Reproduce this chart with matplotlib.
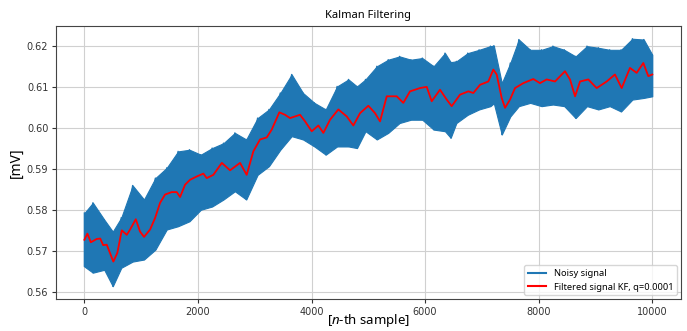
import numpy as np
from matplotlib import pyplot as plt
from matplotlib.lines import Line2D

# filtered (Kalman) signal
filt_n = [0, 53, 113, 218, 280, 330, 394, 510, 580, 658, 746, 805, 905, 980,
          1050, 1157, 1245, 1333, 1420, 1538, 1627, 1685, 1773, 1861, 1979,
          2095, 2155, 2271, 2420, 2565, 2741, 2858, 2975, 3093, 3211, 3299,
          3433, 3533, 3621, 3797, 3886, 4003, 4120, 4208, 4326, 4472, 4620,
          4736, 4854, 5000, 5118, 5206, 5324, 5500, 5616, 5734, 5910, 6028,
          6116, 6262, 6380, 6468, 6614, 6761, 6849, 6967, 7113, 7201, 7260,
          7348, 7407, 7495, 7583, 7729, 7905, 8022, 8141, 8287, 8463, 8551,
          8640, 8728, 8873, 9021, 9197, 9343, 9461, 9607, 9725, 9842, 9930,
          10000]
filt_mv = [0.5728, 0.5743, 0.5722, 0.5730, 0.5731, 0.5715, 0.5716, 0.5675,
           0.5696, 0.5751, 0.5740, 0.5753, 0.5778, 0.5748, 0.5735, 0.5753,
           0.5781, 0.5818, 0.5838, 0.5844, 0.5844, 0.5832, 0.5862, 0.5874,
           0.5882, 0.5889, 0.5878, 0.5886, 0.5915, 0.5897, 0.5915, 0.5886,
           0.5943, 0.5972, 0.5977, 0.5996, 0.6038, 0.6032, 0.6024, 0.6032,
           0.6016, 0.5992, 0.6006, 0.5988, 0.6020, 0.6045, 0.6028, 0.6006,
           0.6036, 0.6054, 0.6036, 0.6016, 0.6077, 0.6077, 0.6061, 0.6089,
           0.6097, 0.6100, 0.6065, 0.6093, 0.6069, 0.6053, 0.6081, 0.6089,
           0.6085, 0.6105, 0.6113, 0.6142, 0.6130, 0.6073, 0.6049, 0.6069,
           0.6097, 0.6109, 0.6119, 0.6109, 0.6118, 0.6113, 0.6138, 0.6118,
           0.6077, 0.6113, 0.6118, 0.6097, 0.6113, 0.6130, 0.6097, 0.6146,
           0.6134, 0.6158, 0.6126, 0.6130]

# noisy signal, upper / lower extent of the band
noisy_n = [0, 150, 350, 500, 650, 850, 1050, 1250, 1450, 1650, 1850, 2050,
           2250, 2450, 2650, 2850, 3050, 3250, 3450, 3650, 3850, 4050, 4250,
           4450, 4650, 4800, 4950, 5150, 5350, 5550, 5750, 5950, 6150, 6350,
           6450, 6550, 6750, 6950, 7150, 7210, 7350, 7500, 7650, 7850, 8050,
           8250, 8450, 8650, 8850, 9050, 9250, 9450, 9650, 9850, 10000]
noisy_hi = [0.5793, 0.5818, 0.5777, 0.5748, 0.5782, 0.5860, 0.5826, 0.5878,
            0.5903, 0.5943, 0.5947, 0.5935, 0.5951, 0.5963, 0.5988, 0.5972,
            0.6024, 0.6045, 0.6085, 0.6130, 0.6085, 0.6061, 0.6045, 0.6101,
            0.6118, 0.6101, 0.6118, 0.6150, 0.6166, 0.6174, 0.6166, 0.6170,
            0.6150, 0.6182, 0.6160, 0.6162, 0.6182, 0.6190, 0.6199, 0.6200,
            0.6109, 0.6158, 0.6215, 0.6190, 0.6190, 0.6199, 0.6190, 0.6174,
            0.6199, 0.6195, 0.6190, 0.6190, 0.6217, 0.6215, 0.6178]
noisy_lo = [0.5663, 0.5648, 0.5655, 0.5615, 0.5660, 0.5675, 0.5680, 0.5704,
            0.5753, 0.5761, 0.5773, 0.5801, 0.5809, 0.5826, 0.5846, 0.5826,
            0.5886, 0.5907, 0.5947, 0.5980, 0.5972, 0.5955, 0.5935, 0.5955,
            0.5955, 0.5951, 0.5992, 0.5972, 0.5988, 0.6012, 0.6020, 0.6020,
            0.5996, 0.5992, 0.5976, 0.6012, 0.6032, 0.6045, 0.6053, 0.6060,
            0.5984, 0.6028, 0.6053, 0.6061, 0.6053, 0.6057, 0.6053, 0.6024,
            0.6053, 0.6045, 0.6053, 0.6040, 0.6069, 0.6073, 0.6077]

BLUE = '#1f77b4'

plt.rcParams['mathtext.fontset'] = 'custom'
plt.rcParams['mathtext.it'] = 'Noto Sans:italic'
plt.rcParams['mathtext.rm'] = 'Noto Sans'

fig = plt.figure(figsize=(6.87, 3.31), dpi=100)
ax = fig.add_axes([0.0815, 0.0967, 0.9093, 0.8248])

# zigzag between the band edges, plus a fill so the band is solid
zig_x = np.column_stack([noisy_n, noisy_n]).ravel()
zig_y = np.column_stack([noisy_hi, noisy_lo]).ravel()
ax.fill_between(noisy_n, noisy_lo, noisy_hi, color=BLUE, lw=0.8)
ax.plot(zig_x, zig_y, color=BLUE, lw=1.0)
ax.plot(filt_n, filt_mv, color='red', lw=1.3)

ax.set_xlim(-500, 10500)
ax.set_ylim(0.5584, 0.6248)
ax.set_xticks([0, 2000, 4000, 6000, 8000, 10000])
ax.set_yticks([0.56, 0.57, 0.58, 0.59, 0.60, 0.61, 0.62])
ax.tick_params(labelsize=7, length=3, pad=2.5, colors='#333333')
ax.grid(True, color='#d0d0d0', lw=0.8)
ax.set_axisbelow(True)
for sp in ax.spines.values():
    sp.set_color('#444444')

ax.set_title('Kalman Filtering', fontsize=8, family='Noto Sans', pad=6)
ax.set_xlabel(r'[$n$-th sample]', fontsize=9.5, family='Noto Sans', labelpad=-3)
ax.set_ylabel('[mV]', fontsize=10, family='Noto Sans', labelpad=2)

handles = [Line2D([], [], color=BLUE, lw=1.5), Line2D([], [], color='red', lw=1.5)]
ax.legend(handles, ['Noisy signal', 'Filtered signal KF, q=0.0001'],
          loc='lower right', prop={'family': 'Noto Sans', 'size': 6.7},
          handlelength=2.0, borderaxespad=0.4)

fig.savefig('out.png', dpi=100)
